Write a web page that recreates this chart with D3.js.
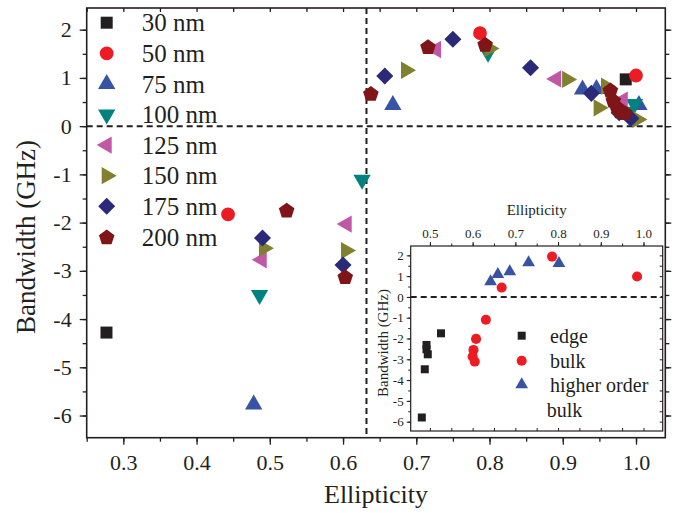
<!DOCTYPE html>
<html><head><meta charset="utf-8">
<script src="https://cdn.jsdelivr.net/npm/d3@7"></script>
<style>
body{margin:0;background:#fff}
svg text{font-family:"Liberation Serif","Times New Roman",serif;fill:#231f20}
</style>
</head><body>
<svg id="chart" width="674" height="513"></svg>
<script>
// ---------------- DATA ----------------
const seriesNames = ["30 nm","50 nm","75 nm","100 nm","125 nm","150 nm","175 nm","200 nm"];
const seriesShapes = ["square","circle","triUp","triDown","triLeft","triRight","diamond","pentagon"];
const seriesColors = ["#231f20","#ed1c24","#3953a4","#008281","#c058a6","#80802f","#2a2a78","#7f1518"];

const ell30  = [0.277, 0.986];
const bw30   = [-4.28, 0.97];
const ell50  = [0.443, 0.787, 1.000];
const bw50   = [-1.83, 1.93, 1.05];
const ell75  = [0.478, 0.668, 0.927, 0.946, 1.004];
const bw75   = [-5.77, 0.44, 0.76, 0.77, 0.44];
const ell100 = [0.486, 0.626, 0.798, 0.998, 0.990];
const bw100  = [-3.50, -1.11, 1.52, 0.46, 0.30];
const ell125 = [0.489, 0.605, 0.727, 0.891, 0.982];
const bw125  = [-2.77, -2.03, 1.59, 0.98, 0.54];
const ell150 = [0.492, 0.604, 0.686, 0.800, 0.906, 0.949, 0.959, 1.002];
const bw150  = [-2.53, -2.58, 1.16, 1.61, 0.97, 0.38, 0.83, 0.14];
const ell175 = [0.490, 0.600, 0.657, 0.750, 0.856, 0.939, 0.977, 0.993];
const bw175  = [-2.32, -2.88, 1.04, 1.80, 1.21, 0.68, 0.28, 0.16];
const ell200 = [0.523, 0.603, 0.638, 0.716, 0.794, 0.965, 0.969, 0.974, 0.978, 0.985];
const bw200  = [-1.74, -3.12, 0.68, 1.65, 1.70, 0.75, 0.54, 0.40, 0.32, 0.28];

const xTicks = [0.3,0.4,0.5,0.6,0.7,0.8,0.9,1.0];
const yTicks = [-6,-5,-4,-3,-2,-1,0,1,2];
const criticalEll = 0.632;

// inset
const insetNames  = ["edge","bulk","higher order"];
const insetShapes = ["square","circle","triUp"];
const insetColors = ["#231f20","#ed1c24","#3953a4"];
const edgeEll   = [0.526, 0.492, 0.492, 0.495, 0.488, 0.481];
const edgeBw    = [-1.75, -2.31, -2.52, -2.76, -3.48, -5.80];
const bulkEll   = [0.631, 0.608, 0.602, 0.600, 0.605, 0.668, 0.786, 0.985];
const bulkBw    = [-1.10, -2.02, -2.55, -2.87, -3.11, 0.45, 1.94, 0.98];
const higherEll = [0.642, 0.659, 0.687, 0.731, 0.802];
const higherBw  = [0.74, 1.09, 1.22, 1.65, 1.62];
const insetXTicks = [0.5,0.6,0.7,0.8,0.9,1.0];
const insetYTicks = [-6,-5,-4,-3,-2,-1,0,1,2];

// ---------------- LAYOUT ----------------
const svg = d3.select("#chart");
const P = {l:86.7, r:665.3, t:8, b:437.7};
const x = d3.scaleLinear().domain([0.25, 1.04]).range([P.l, P.r]);
const y = d3.scaleLinear().domain([-6.46, 2.45]).range([P.b, P.t]);
const intFmt = d => (d < 0 ? "-" : "") + Math.abs(d);

function symPath(shape, size){
  if(shape==="pentagon"){
    const r = Math.sqrt(size/2.378);
    const pts = d3.range(5).map(i=>{const a=-Math.PI/2+i*2*Math.PI/5;return [r*Math.cos(a), r*Math.sin(a)+r*0.1];});
    return "M"+pts.map(p=>p.join(",")).join("L")+"Z";
  }
  const map = {square:d3.symbolSquare, circle:d3.symbolCircle, diamond:d3.symbolSquare,
    triUp:d3.symbolTriangle, triDown:d3.symbolTriangle, triLeft:d3.symbolTriangle, triRight:d3.symbolTriangle};
  return d3.symbol(map[shape], size)();
}
function symRot(shape){
  return {diamond:45, triDown:180, triLeft:-90, triRight:90}[shape]||0;
}
function symSize(shape){
  return {square:144, circle:150, diamond:145, pentagon:160, triUp:130, triDown:130, triLeft:130, triRight:130}[shape];
}

// dashed guide lines
svg.append("line").attr("x1",P.l).attr("x2",P.r).attr("y1",y(0)).attr("y2",y(0))
  .attr("stroke","#231f20").attr("stroke-width",2).attr("stroke-dasharray","6,4");
svg.append("line").attr("x1",x(criticalEll)).attr("x2",x(criticalEll)).attr("y1",P.t).attr("y2",P.b)
  .attr("stroke","#231f20").attr("stroke-width",2).attr("stroke-dasharray","6,4");

// series
const allSeries = [
  [ell30,bw30],[ell50,bw50],[ell75,bw75],[ell100,bw100],
  [ell125,bw125],[ell150,bw150],[ell175,bw175],[ell200,bw200]
];
allSeries.forEach(([es,bs],i)=>{
  const pts = es.map((e,j)=>({e, b:bs[j]}));
  svg.append("g").selectAll("path").data(pts).join("path")
    .attr("d", symPath(seriesShapes[i], symSize(seriesShapes[i])))
    .attr("transform", d=>`translate(${x(d.e)},${y(d.b)}) rotate(${symRot(seriesShapes[i])})`)
    .attr("fill", seriesColors[i]);
});

// axes
function styleAxis(g){
  g.select(".domain").remove();
  g.selectAll("line").attr("stroke","#231f20").attr("stroke-width",1.3);
}
const xMinor = d3.range(0.25,1.041,0.05).map(v=>+v.toFixed(2));
const yMinor = d3.range(-6.5,2.51,0.5).map(v=>+v.toFixed(1)).filter(v=>v>=-6.46&&v<=2.45);

svg.append("g").attr("transform",`translate(0,${P.b})`)
  .call(d3.axisBottom(x).tickValues(xMinor).tickSize(4).tickFormat("")).call(styleAxis);
svg.append("g").attr("transform",`translate(0,${P.b})`)
  .call(d3.axisBottom(x).tickValues(xTicks).tickSize(7).tickPadding(10).tickFormat(d3.format(".1f")))
  .call(styleAxis).selectAll("text").attr("font-size",22);
svg.append("g").attr("transform",`translate(0,${P.t})`)
  .call(d3.axisBottom(x).tickValues(xMinor).tickSize(4).tickFormat("")).call(styleAxis);
svg.append("g").attr("transform",`translate(${P.l},0)`)
  .call(d3.axisLeft(y).tickValues(yMinor).tickSize(4).tickFormat("")).call(styleAxis);
svg.append("g").attr("transform",`translate(${P.l},0)`)
  .call(d3.axisLeft(y).tickValues(yTicks).tickSize(7).tickPadding(8).tickFormat(intFmt))
  .call(styleAxis).selectAll("text").attr("font-size",22);
svg.append("g").attr("transform",`translate(${P.r},0)`)
  .call(d3.axisRight(y).tickValues(yMinor).tickSize(4).tickFormat("")).call(styleAxis);
svg.append("g").attr("transform",`translate(${P.r},0)`)
  .call(d3.axisRight(y).tickValues(yTicks).tickSize(6).tickFormat("")).call(styleAxis);

svg.append("rect").attr("x",P.l).attr("y",P.t).attr("width",P.r-P.l).attr("height",P.b-P.t)
  .attr("fill","none").attr("stroke","#231f20").attr("stroke-width",1.6);

svg.append("text").attr("x",(P.l+P.r)/2).attr("y",503).attr("text-anchor","middle")
  .attr("font-size",26).text("Ellipticity");
svg.append("text").attr("transform",`translate(35,237) rotate(-90)`)
  .attr("text-anchor","middle").attr("font-size",27).text("Bandwidth (GHz)");

// legend
const leg = svg.append("g");
seriesNames.forEach((n,i)=>{
  const cy = 22.7 + i*30.6;
  leg.append("path").attr("d",symPath(seriesShapes[i], symSize(seriesShapes[i])))
    .attr("transform",`translate(106.7,${cy}) rotate(${symRot(seriesShapes[i])})`)
    .attr("fill",seriesColors[i]);
  leg.append("text").attr("x",141.7).attr("y",cy).attr("dy","0.35em").attr("font-size",25).text(n);
});

// ---------------- INSET ----------------
const I = {l:410.7, r:662.7, t:246, b:431};
const ix = d3.scaleLinear().domain([0.455, 1.045]).range([I.l, I.r]);
const iy = d3.scaleLinear().domain([-6.45, 2.45]).range([I.b, I.t]);
const ins = svg.append("g");
ins.append("rect").attr("x",I.l).attr("y",I.t).attr("width",I.r-I.l).attr("height",I.b-I.t).attr("fill","#fff");
ins.append("line").attr("x1",I.l).attr("x2",I.r).attr("y1",iy(0)).attr("y2",iy(0))
  .attr("stroke","#231f20").attr("stroke-width",2).attr("stroke-dasharray","6,4");

const insetSets = [[edgeEll,edgeBw],[bulkEll,bulkBw],[higherEll,higherBw]];
const insetSizes = [64, 80, 70];
insetSets.forEach(([es,bs],i)=>{
  const pts = es.map((e,j)=>({e,b:bs[j]}));
  ins.append("g").selectAll("path").data(pts).join("path")
    .attr("d", symPath(insetShapes[i], insetSizes[i]))
    .attr("transform", d=>`translate(${ix(d.e)},${iy(d.b)})`)
    .attr("fill", insetColors[i]);
});

function styleThin(g){
  g.select(".domain").remove();
  g.selectAll("line").attr("stroke","#231f20").attr("stroke-width",1);
}
const ixMinor = d3.range(0.5,1.01,0.05).map(v=>+v.toFixed(2));
const iyMinor = d3.range(-6.5,2.51,0.5).map(v=>+v.toFixed(1)).filter(v=>v>=-6.45&&v<=2.45);
ins.append("g").attr("transform",`translate(0,${I.t})`)
  .call(d3.axisTop(ix).tickValues(ixMinor).tickSize(2.5).tickFormat("")).call(styleThin);
ins.append("g").attr("transform",`translate(0,${I.t})`)
  .call(d3.axisTop(ix).tickValues(insetXTicks).tickSize(4).tickPadding(4).tickFormat(d3.format(".1f")))
  .call(styleThin).selectAll("text").attr("font-size",13);
ins.append("g").attr("transform",`translate(0,${I.b})`)
  .call(d3.axisTop(ix).tickValues(ixMinor).tickSize(3).tickFormat("")).call(styleThin);
ins.append("g").attr("transform",`translate(${I.l},0)`)
  .call(d3.axisLeft(iy).tickValues(iyMinor).tickSize(2.5).tickFormat("")).call(styleThin);
ins.append("g").attr("transform",`translate(${I.l},0)`)
  .call(d3.axisLeft(iy).tickValues(insetYTicks).tickSize(4).tickPadding(3).tickFormat(intFmt))
  .call(styleThin).selectAll("text").attr("font-size",13);
ins.append("g").attr("transform",`translate(${I.r},0)`)
  .call(d3.axisLeft(iy).tickValues(iyMinor).tickSize(3).tickFormat("")).call(styleThin);
ins.append("rect").attr("x",I.l).attr("y",I.t).attr("width",I.r-I.l).attr("height",I.b-I.t)
  .attr("fill","none").attr("stroke","#231f20").attr("stroke-width",1.2);

ins.append("text").attr("x",(I.l+I.r)/2).attr("y",215).attr("text-anchor","middle")
  .attr("font-size",15).text("Ellipticity");
ins.append("text").attr("transform",`translate(388,343) rotate(-90)`)
  .attr("text-anchor","middle").attr("font-size",15).text("Bandwidth (GHz)");

const insetLegY = [335.7, 360.7, 384.5];
insetNames.forEach((n,i)=>{
  ins.append("path").attr("d",symPath(insetShapes[i], insetSizes[i]))
    .attr("transform",`translate(521.7,${insetLegY[i]})`).attr("fill",insetColors[i]);
  ins.append("text").attr("x",550).attr("y",insetLegY[i]).attr("dy","0.35em").attr("font-size",20).text(n);
});
ins.append("text").attr("x",546.7).attr("y",409.5).attr("dy","0.35em").attr("font-size",20).text("bulk");
</script>
</body></html>
